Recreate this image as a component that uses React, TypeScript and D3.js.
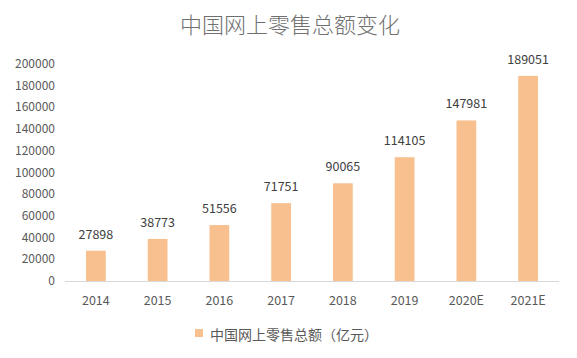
import * as d3 from 'd3'

const years = ['2014', '2015', '2016', '2017', '2018', '2019', '2020E', '2021E']
const sales = [27898, 38773, 51556, 71751, 90065, 114105, 147981, 189051]
const yTicks = [0, 20000, 40000, 60000, 80000, 100000, 120000, 140000, 160000, 180000, 200000]

const W = 577
const H = 358
const FONT = '"Noto Sans CJK SC", "Noto Sans", sans-serif'

export default function App() {
  const x = d3.scaleBand<string>().domain(years).range([65, 559]).paddingInner(0.68).paddingOuter(0.34)
  const y = d3.scaleLinear().domain([0, 200000]).range([281, 64])

  return (
    <svg width={W} height={H} style={{ position: 'absolute', left: 0, top: 0, background: '#fff' }}>
      <text x={290} y={33} textAnchor="middle" fontSize={22} fill="#707070" fontFamily={FONT} fontWeight={300}>
        中国网上零售总额变化
      </text>

      {/* y axis labels */}
      {yTicks.map((t) => (
        <text key={t} x={55} y={y(t) + 4} textAnchor="end" fontSize={12} fill="#595959" fontFamily={FONT}>
          {t}
        </text>
      ))}

      {/* bars */}
      {years.map((yr, i) => (
        <g key={yr}>
          <rect x={x(yr)} y={y(sales[i])} width={x.bandwidth()} height={y(0) - y(sales[i])} fill="#F8C08F" />
          <text
            x={(x(yr) ?? 0) + x.bandwidth() / 2}
            y={y(sales[i]) - 12}
            textAnchor="middle"
            fontSize={12.5}
            fill="#404040"
            fontFamily={FONT}
          >
            {sales[i]}
          </text>
          <text
            x={(x(yr) ?? 0) + x.bandwidth() / 2}
            y={305}
            textAnchor="middle"
            fontSize={12.5}
            fill="#595959"
            fontFamily={FONT}
          >
            {yr}
          </text>
        </g>
      ))}

      {/* baseline */}
      <line x1={65} x2={559} y1={y(0) + 0.5} y2={y(0) + 0.5} stroke="#d9d9d9" strokeWidth={1} />

      {/* legend */}
      <rect x={195} y={329} width={8} height={8} fill="#F8C08F" />
      <text x={210} y={340} fontSize={14} fill="#595959" fontFamily={FONT}>
        中国网上零售总额（亿元）
      </text>
    </svg>
  )
}
